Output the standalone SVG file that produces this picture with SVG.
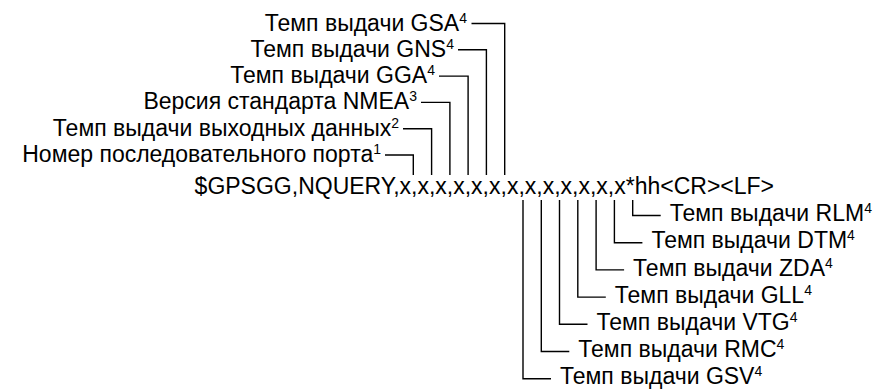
<svg xmlns="http://www.w3.org/2000/svg" width="880" height="389" viewBox="0 0 880 389">
<style>
text{font-family:"Liberation Sans",Arial,sans-serif;font-size:23px;fill:#000}
.sup{font-size:14px}
.end{text-anchor:end}
#connectors path{fill:none;stroke:#000;stroke-width:1.4}
</style>
<rect width="880" height="389" fill="#fff"/>
<g id="sentence"><text x="194.6" y="193.5">$GPSGG,NQUERY,x,x,x,x,x,x,x,x,x,x,x,x,x*hh&lt;CR&gt;&lt;LF&gt;</text></g>
<g id="gsa"><text class="end" x="467" y="30.5">Темп выдачи GSA<tspan class="sup" dy="-8">4</tspan></text></g>
<g id="gns"><text class="end" x="454" y="56.8">Темп выдачи GNS<tspan class="sup" dy="-8">4</tspan></text></g>
<g id="gga"><text class="end" x="435" y="83.1">Темп выдачи GGA<tspan class="sup" dy="-8">4</tspan></text></g>
<g id="nmea"><text class="end" x="417" y="109.4">Версия стандарта NMEA<tspan class="sup" dy="-8">3</tspan></text></g>
<g id="rate"><text class="end" x="399" y="135.7">Темп выдачи выходных данных<tspan class="sup" dy="-8">2</tspan></text></g>
<g id="port"><text class="end" x="381" y="162">Номер последовательного порта<tspan class="sup" dy="-8">1</tspan></text></g>
<g id="rlm"><text x="669.7" y="221.2">Темп выдачи RLM<tspan class="sup" dy="-8">4</tspan></text></g>
<g id="dtm"><text x="651.4" y="248.4">Темп выдачи DTM<tspan class="sup" dy="-8">4</tspan></text></g>
<g id="zda"><text x="633.1" y="275.6">Темп выдачи ZDA<tspan class="sup" dy="-8">4</tspan></text></g>
<g id="gll"><text x="614.8" y="302.8">Темп выдачи GLL<tspan class="sup" dy="-8">4</tspan></text></g>
<g id="vtg"><text x="596.5" y="330">Темп выдачи VTG<tspan class="sup" dy="-8">4</tspan></text></g>
<g id="rmc"><text x="578.3" y="357.2">Темп выдачи RMC<tspan class="sup" dy="-8">4</tspan></text></g>
<g id="gsv"><text x="560" y="384.2">Темп выдачи GSV<tspan class="sup" dy="-8">4</tspan></text></g>
<g id="connectors">
<path d="M471.5 23.5H504.7V175"/>
<path d="M458 49.8H486.4V175"/>
<path d="M439 76.1H468.1V175"/>
<path d="M421 102.4H449.9V175"/>
<path d="M403 128.7H431.6V175"/>
<path d="M385 155H413.3V175"/>
<path d="M632.7 200V215.5H660.7"/>
<path d="M614.4 200V242.7H642.4"/>
<path d="M596.1 200V269.9H624.1"/>
<path d="M577.8 200V297.1H605.8"/>
<path d="M559.5 200V324.3H587.5"/>
<path d="M541.3 200V351.5H569.3"/>
<path d="M523 200V378.7H551"/>
</g>
</svg>
